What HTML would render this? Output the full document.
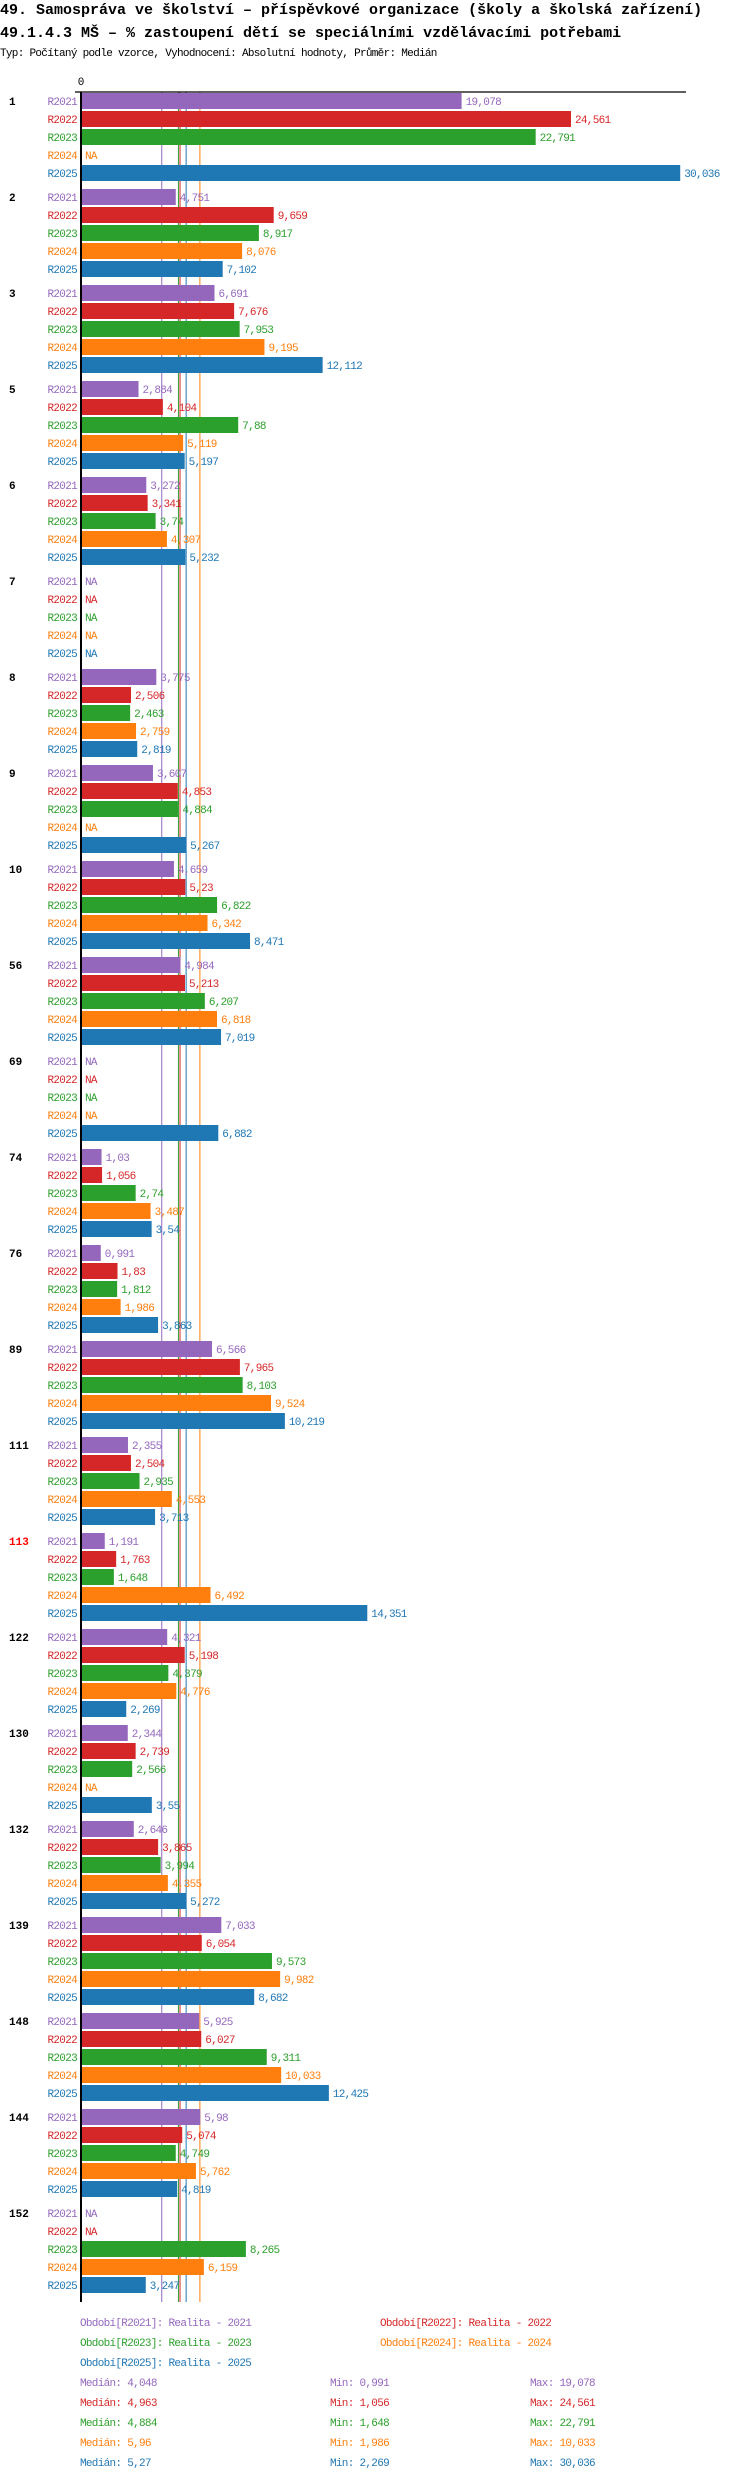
<!DOCTYPE html>
<html><head><meta charset="utf-8">
<style>
html,body{margin:0;padding:0;background:#fff;}
svg{display:block;}
.t{font-family:"Liberation Mono","DejaVu Sans Mono",monospace;}
</style></head>
<body>
<svg id="chart" width="750" height="2480" viewBox="0 0 750 2480">
<text class="t" x="0" y="14" font-size="15" font-weight="bold">49. Samospráva ve školství – příspěvkové organizace (školy a školská zařízení)</text>
<text class="t" x="0" y="37" font-size="15" font-weight="bold">49.1.4.3 MŠ – % zastoupení dětí se speciálními vzdělávacími potřebami</text>
<text class="t" x="0" y="56" font-size="11" letter-spacing="-0.7">Typ: Počítaný podle vzorce, Vyhodnocení: Absolutní hodnoty, Průměr: Medián</text>
<text class="t" x="81" y="85" font-size="11" text-anchor="middle">0</text>
<g id="marks"></g>
</svg>
<script>
const groups = ["1","2","3","5","6","7","8","9","10","56","69","74","76","89","111","113","122","130","132","139","148","144","152"];
const series = ["R2021","R2022","R2023","R2024","R2025"];
const colors = ["#9467bd","#d62728","#2ca02c","#ff7f0e","#1f77b4"];
const v2021 = [19.078,4.751,6.691,2.884,3.272,null,3.775,3.607,4.659,4.984,null,1.03,0.991,6.566,2.355,1.191,4.321,2.344,2.646,7.033,5.925,5.98,null];
const v2022 = [24.561,9.659,7.676,4.104,3.341,null,2.506,4.853,5.23,5.213,null,1.056,1.83,7.965,2.504,1.763,5.198,2.739,3.865,6.054,6.027,5.074,null];
const v2023 = [22.791,8.917,7.953,7.88,3.74,null,2.463,4.884,6.822,6.207,null,2.74,1.812,8.103,2.935,1.648,4.379,2.566,3.994,9.573,9.311,4.749,8.265];
const v2024 = [null,8.076,9.195,5.119,4.307,null,2.759,null,6.342,6.818,null,3.487,1.986,9.524,4.553,6.492,4.776,null,4.355,9.982,10.033,5.762,6.159];
const v2025 = [30.036,7.102,12.112,5.197,5.232,null,2.819,5.267,8.471,7.019,6.882,3.54,3.863,10.219,3.713,14.351,2.269,3.55,5.272,8.682,12.425,4.819,3.247];
const medians = [4.048,4.963,4.884,5.96,5.27];
const mins = ["0,991","1,056","1,648","1,986","2,269"];
const maxs = ["19,078","24,561","22,791","10,033","30,036"];
const legendNames = ["Období[R2021]: Realita - 2021","Období[R2022]: Realita - 2022","Období[R2023]: Realita - 2023","Období[R2024]: Realita - 2024","Období[R2025]: Realita - 2025"];

const allVals = [v2021,v2022,v2023,v2024,v2025];
const X0 = 81, PXU = 19.95, TOP = 93, GP = 96, RP = 18, BH = 16;
const x = v => X0 + v * PXU;
const rowY = (g, i) => TOP + g * GP + i * RP;
const NS = "http://www.w3.org/2000/svg";
const marks = document.getElementById('marks');
function mk(tag, attrs, parent) {
  const e = document.createElementNS(NS, tag);
  for (const k in attrs) e.setAttribute(k, attrs[k]);
  (parent || marks).appendChild(e);
  return e;
}
const fmt = v => String(v).replace('.', ',');
const bottom = rowY(groups.length - 1, 4) + BH + 9;

medians.forEach((m, i) => {
  const l = mk('line', {x1: x(m), x2: x(m), y1: 92, y2: bottom, stroke: colors[i], 'stroke-width': 1});
  
  
});

groups.forEach((g, gi) => {
  const gl = mk('text', {class: 't', x: 9, y: rowY(gi, 0) + 12, 'font-size': 11, 'font-weight': 'bold', fill: g === '113' ? '#ff0000' : '#000'});
  gl.textContent = g;
  
  
  series.forEach((s, si) => {
    const y = rowY(gi, si);
    const v = allVals[si][gi];
    const rl = mk('text', {class: 't', x: 77, y: y + 12, 'font-size': 11, 'letter-spacing': -0.7, 'text-anchor': 'end', fill: colors[si]});
    rl.textContent = s;
    
    
    let endX = X0;
    if (v !== null) {
      const b = mk('rect', {x: X0, y: y, width: x(v) - X0, height: BH, fill: colors[si]});
      
      
      endX = x(v);
    }
    const vl = mk('text', {class: 't', x: endX + 4, y: y + 12, 'font-size': 11, 'letter-spacing': -0.7, fill: colors[si]});
    vl.textContent = v === null ? 'NA' : fmt(v);
    
    
  });
});

const ax = mk('line', {x1: 75, x2: 686, y1: 92, y2: 92, stroke: '#000', 'stroke-width': 1.2});


const zx = mk('line', {x1: 81, x2: 81, y1: 92, y2: bottom, stroke: '#000', 'stroke-width': 2});



const legPos = [[80,2326],[380,2326],[80,2346],[380,2346],[80,2366]];
legendNames.forEach((n, i) => {
  const t = mk('text', {class: 't', x: legPos[i][0], y: legPos[i][1], 'font-size': 11, 'letter-spacing': -0.7, fill: colors[i]});
  t.textContent = n;
  
  
});
medians.forEach((m, i) => {
  const y = 2386 + i * 20;
  const a = mk('text', {class: 't', x: 80, y: y, 'font-size': 11, 'letter-spacing': -0.7, fill: colors[i]});
  a.textContent = 'Medián: ' + fmt(m);
  
  
  const b = mk('text', {class: 't', x: 330, y: y, 'font-size': 11, 'letter-spacing': -0.7, fill: colors[i]});
  b.textContent = 'Min: ' + mins[i];
  
  
  const c = mk('text', {class: 't', x: 530, y: y, 'font-size': 11, 'letter-spacing': -0.7, fill: colors[i]});
  c.textContent = 'Max: ' + maxs[i];
  
  
});
</script>
</body></html>
